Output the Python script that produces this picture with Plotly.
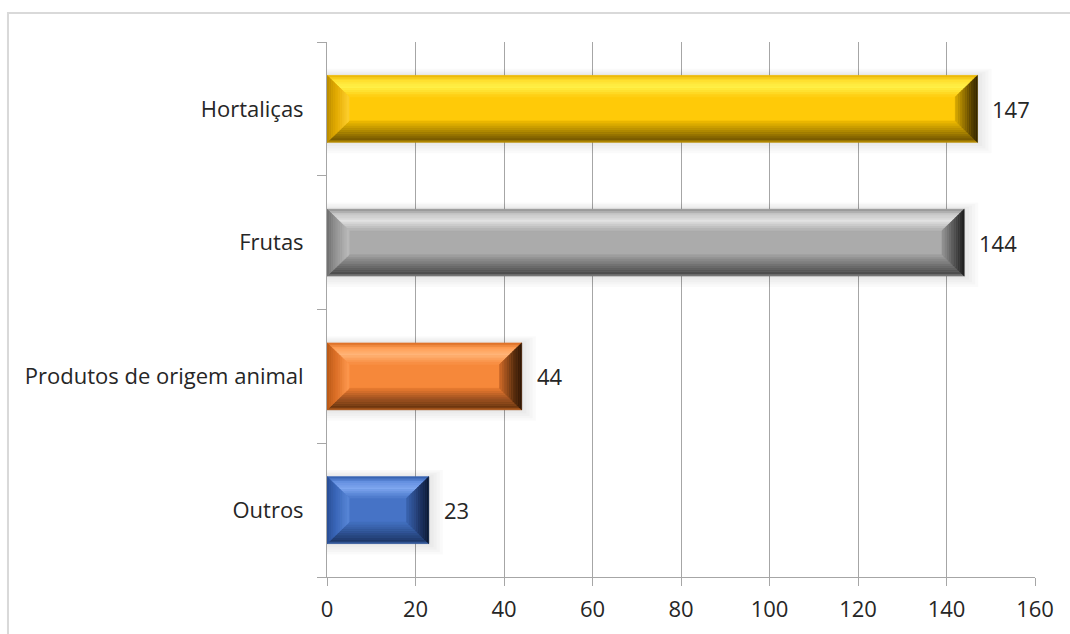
import plotly.graph_objects as go
import numpy as np

# Data (listed bottom to top, as the axis shows them)
categories = ["Outros", "Produtos de origem animal", "Frutas", "Hortaliças"]
values = [23, 44, 144, 147]
x_ticks = [0, 20, 40, 60, 80, 100, 120, 140, 160]

# Bevel palettes per bar: face, and gradient stops per side (outer edge -> inner edge)
palettes = {
    "Hortaliças": dict(
        face="#FFCA08",
        top=[(0.0, "#E8B000"), (0.25, "#FFE030"), (0.55, "#FFF24A"), (1.0, "#FFCC10")],
        bottom=[(0.0, "#C89800"), (0.15, "#7A5C00"), (0.5, "#A88200"), (1.0, "#F0BC00")],
        left=[(0.0, "#B88A00"), (0.4, "#E0A800"), (1.0, "#FFD030")],
        right=[(0.0, "#2E2200"), (0.4, "#6A5000"), (1.0, "#D8A800")],
    ),
    "Frutas": dict(
        face="#ABABAB",
        top=[(0.0, "#8E8E8E"), (0.25, "#C8C8C8"), (0.55, "#E2E2E2"), (1.0, "#B0B0B0")],
        bottom=[(0.0, "#8A8A8A"), (0.15, "#4E4E4E"), (0.5, "#6E6E6E"), (1.0, "#A2A2A2")],
        left=[(0.0, "#6E6E6E"), (0.4, "#929292"), (1.0, "#BDBDBD")],
        right=[(0.0, "#1C1C1C"), (0.4, "#4A4A4A"), (1.0, "#959595")],
    ),
    "Produtos de origem animal": dict(
        face="#F6883A",
        top=[(0.0, "#D86A20"), (0.25, "#FF9E55"), (0.55, "#FFB578"), (1.0, "#F88B3E")],
        bottom=[(0.0, "#B86020"), (0.15, "#6E3810"), (0.5, "#9A5020"), (1.0, "#E87A30")],
        left=[(0.0, "#B85A18"), (0.4, "#DA6E26"), (1.0, "#FF9A50")],
        right=[(0.0, "#2A1404"), (0.4, "#5E3010"), (1.0, "#D06A28")],
    ),
    "Outros": dict(
        face="#4673C6",
        top=[(0.0, "#2E5AA8"), (0.25, "#6590E0"), (0.55, "#80A8F0"), (1.0, "#4A78CA")],
        bottom=[(0.0, "#3A62A8"), (0.15, "#1E3868"), (0.5, "#2E5090"), (1.0, "#4270C0")],
        left=[(0.0, "#2A4E94"), (0.4, "#3A66B8"), (1.0, "#5A88D8")],
        right=[(0.0, "#0C1830"), (0.4, "#1E3464"), (1.0, "#3A64B0")],
    ),
}

BAR_W = 0.5      # bar thickness in category units
DX = 5.0         # bevel depth along the value axis
DY = 0.16        # bevel depth along the category axis
STRIPS = 10
FONT = "'Open Sans', 'Noto Sans', sans-serif"


def hex_to_rgb(h):
    h = h.lstrip("#")
    return np.array([int(h[i:i + 2], 16) for i in (0, 2, 4)], dtype=float)


def color_at(stops, t):
    ts = [s[0] for s in stops]
    cols = np.array([hex_to_rgb(s[1]) for s in stops])
    rgb = [np.interp(t, ts, cols[:, k]) for k in range(3)]
    return "rgb(%d,%d,%d)" % tuple(int(round(c)) for c in rgb)


def band_path(side, x0, x1, yb, yt, ta, tb):
    """Mitred band of the bevel frame between depths ta and tb (0..1)."""
    def ring(t):
        return (x0 + t * DX, x1 - t * DX, yb + t * DY, yt - t * DY)
    ax0, ax1, ayb, ayt = ring(ta)
    bx0, bx1, byb, byt = ring(tb)
    if side == "top":
        pts = [(ax0, ayt), (ax1, ayt), (bx1, byt), (bx0, byt)]
    elif side == "bottom":
        pts = [(ax0, ayb), (ax1, ayb), (bx1, byb), (bx0, byb)]
    elif side == "left":
        pts = [(ax0, ayb), (ax0, ayt), (bx0, byt), (bx0, byb)]
    else:
        pts = [(ax1, ayb), (ax1, ayt), (bx1, byt), (bx1, byb)]
    return "M " + " L ".join("%.4f,%.4f" % p for p in pts) + " Z"


fig = go.Figure()

fig.add_trace(go.Bar(
    y=categories,
    x=values,
    orientation="h",
    width=BAR_W,
    marker=dict(color=[palettes[c]["face"] for c in categories], line=dict(width=0)),
    hoverinfo="skip",
    showlegend=False,
))

shapes = []
for idx, (cat, val) in enumerate(zip(categories, values)):
    pal = palettes[cat]
    x0, x1 = 0.0, float(val)
    yb, yt = idx - BAR_W / 2, idx + BAR_W / 2
    # soft drop shadow
    for k in range(5):
        ex = 0.4 + k * 0.7
        ey = 0.01 + k * 0.018
        shapes.append(dict(
            type="rect", xref="x", yref="y", layer="between",
            x0=x0, x1=x1 + ex, y0=yb - ey, y1=yt + ey * 0.6,
            fillcolor="rgba(0,0,0,0.018)", line=dict(width=0),
        ))
    # bevel bands, each as a stack of thin strips
    for side in ("top", "bottom", "left", "right"):
        for s in range(STRIPS):
            ta, tb = s / STRIPS, (s + 1) / STRIPS
            c = color_at(pal[side], (ta + tb) / 2)
            shapes.append(dict(
                type="path", xref="x", yref="y", layer="above",
                path=band_path(side, x0, x1, yb, yt, ta, tb),
                fillcolor=c, line=dict(width=0.6, color=c),
            ))

# Chart-area frame
shapes.append(dict(
    type="rect", xref="paper", yref="paper",
    x0=-0.4506, x1=1.08, y0=-0.13, y1=1.0542,
    line=dict(color="#D9D9D9", width=2), fillcolor="rgba(0,0,0,0)", layer="below",
))

annotations = [
    dict(x=v, y=c, xref="x", yref="y", text=str(v), showarrow=False,
         xanchor="left", yanchor="middle", xshift=13,
         font=dict(size=22, color="#262626", family=FONT))
    for c, v in zip(categories, values)
]

fig.update_layout(
    width=1070, height=634,
    margin=dict(l=327, r=35, t=42, b=57),
    paper_bgcolor="white", plot_bgcolor="white",
    shapes=shapes, annotations=annotations,
    bargap=0.5,
    font=dict(family=FONT, size=22, color="#262626"),
    xaxis=dict(
        range=[0, 160], tickvals=x_ticks, ticktext=[str(t) for t in x_ticks],
        showgrid=True, gridcolor="#A6A6A6", gridwidth=1,
        showline=True, linecolor="#A6A6A6", linewidth=1,
        ticks="outside", ticklen=8, tickcolor="#A6A6A6",
        ticklabelstandoff=5, zeroline=False, fixedrange=True,
    ),
    yaxis=dict(
        type="category", categoryorder="array", categoryarray=categories,
        range=[-0.5, 3.5], tickson="boundaries",
        showgrid=False, showline=True, linecolor="#A6A6A6", linewidth=1,
        ticks="outside", ticklen=9, tickcolor="#A6A6A6",
        ticklabelstandoff=18, fixedrange=True,
    ),
)

fig.write_html("out.html")
